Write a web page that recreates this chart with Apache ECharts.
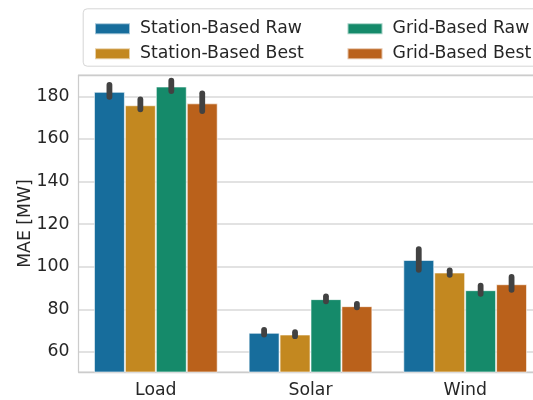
<!DOCTYPE html>
<html>
<head>
<meta charset="utf-8">
<script src="https://cdn.jsdelivr.net/npm/echarts@6/dist/echarts.min.js"></script>
<style>html,body{margin:0;padding:0;background:#fff;overflow:hidden;width:533px;height:400px;}#c{width:548px;height:400px;}</style>
</head>
<body>
<div id="c"></div>
<script>
const categories = ['Load', 'Solar', 'Wind'];
const seriesNames = ['Station-Based Raw', 'Station-Based Best', 'Grid-Based Raw', 'Grid-Based Best'];
const stationRaw  = [182.1, 69.0, 103.2];
const stationBest = [175.8, 68.2, 97.3];
const gridRaw     = [184.6, 84.8, 89.0];
const gridBest    = [176.7, 81.5, 91.8];
// confidence intervals [low, high]
const stationRawCI  = [[179.8, 185.4], [68.2, 70.4], [98.6, 108.3]];
const stationBestCI = [[173.9, 178.5], [67.4, 69.3], [96.2, 98.3]];
const gridRawCI     = [[182.5, 187.3], [83.8, 86.1], [87.3, 91.1]];
const gridBestCI    = [[173.1, 181.4], [81.0, 82.6], [89.2, 95.2]];

const values = [stationRaw, stationBest, gridRaw, gridBest];
const cis = [stationRawCI, stationBestCI, gridRawCI, gridBestCI];
const colors = ['#176d9c', '#c38820', '#158a6a', '#ba611b'];
const FONT = 'DejaVu Sans';
const TXT = '#262626';
const FS = 17.3;

const chart = echarts.init(document.getElementById('c'), null, {renderer: 'canvas'});

const series = [];
values.forEach((v, i) => {
  series.push({
    name: seriesNames[i], type: 'bar', data: v,
    barGap: '0%', barCategoryGap: '20%',
    itemStyle: {color: colors[i], borderColor: 'rgba(255,255,255,0.6)', borderWidth: 1},
    z: 2
  });
});
cis.forEach((ci, i) => {
  series.push({
    type: 'custom',
    name: 'err' + i,
    data: ci.map((c, k) => [k, c[0], c[1]]),
    encode: {x: 0, y: [1, 2]},
    z: 5, silent: true,
    renderItem: function (params, api) {
      const k = api.value(0);
      const lo = api.coord([k, api.value(1)]);
      const hi = api.coord([k, api.value(2)]);
      const bw = api.size([1, 0])[0] * 0.8 / 4;
      const x = lo[0] + (i - 1.5) * bw;
      return {
        type: 'line',
        shape: {x1: x, y1: lo[1], x2: x, y2: hi[1]},
        style: {stroke: '#424242', lineWidth: 5.8, lineCap: 'round'}
      };
    }
  });
});

chart.setOption({
  animation: false,
  backgroundColor: '#fff',
  textStyle: {fontFamily: FONT},
  grid: {left: 78.5, width: 464, top: 75, bottom: 28, show: false},
  legend: [
    {data: [seriesNames[0], seriesNames[1]], orient: 'vertical', left: 89, top: 15.3,
     itemWidth: 35, itemHeight: 11, itemGap: 8, icon: 'rect',
     textStyle: {fontFamily: FONT, fontSize: FS, color: TXT, padding: [0, 0, 0, 5]}},
    {data: [seriesNames[2], seriesNames[3]], orient: 'vertical', left: 341.5, top: 15.3,
     itemWidth: 35, itemHeight: 11, itemGap: 8, icon: 'rect',
     textStyle: {fontFamily: FONT, fontSize: FS, color: TXT, padding: [0, 0, 0, 5]}}
  ],
  graphic: [{
    type: 'rect', left: 82.7, top: 8.3, z: -1,
    shape: {width: 480, height: 57.4, r: 4},
    style: {fill: '#fff', stroke: '#d6d6d6', lineWidth: 1}
  }],
  xAxis: [{
    type: 'category', data: categories,
    axisLine: {show: true, lineStyle: {color: '#cccccc', width: 1.25}},
    axisTick: {show: false},
    axisLabel: {fontFamily: FONT, fontSize: FS, color: TXT, margin: 10},
    splitLine: {show: false}
  }, {
    type: 'category', data: categories, position: 'top',
    axisLine: {show: true, lineStyle: {color: '#cccccc', width: 1.25}},
    axisTick: {show: false}, axisLabel: {show: false}, splitLine: {show: false}
  }],
  yAxis: {
    type: 'value', min: 50.6, max: 190, minInterval: 20, maxInterval: 20,
    name: 'MAE [MW]', nameLocation: 'middle', nameGap: 44, nameMoveOverlap: false,
    nameTextStyle: {fontFamily: FONT, fontSize: FS, color: TXT},
    axisLine: {show: true, lineStyle: {color: '#cccccc', width: 1.25}},
    axisTick: {show: false},
    axisLabel: {fontFamily: FONT, fontSize: FS, color: TXT, margin: 9, showMinLabel: false, showMaxLabel: false,
      formatter: v => (v % 20 === 0 ? String(v) : '')},
    splitLine: {show: true, lineStyle: {color: '#d9d9d9', width: 1.5}}
  },
  series: series
});
</script>
</body>
</html>
